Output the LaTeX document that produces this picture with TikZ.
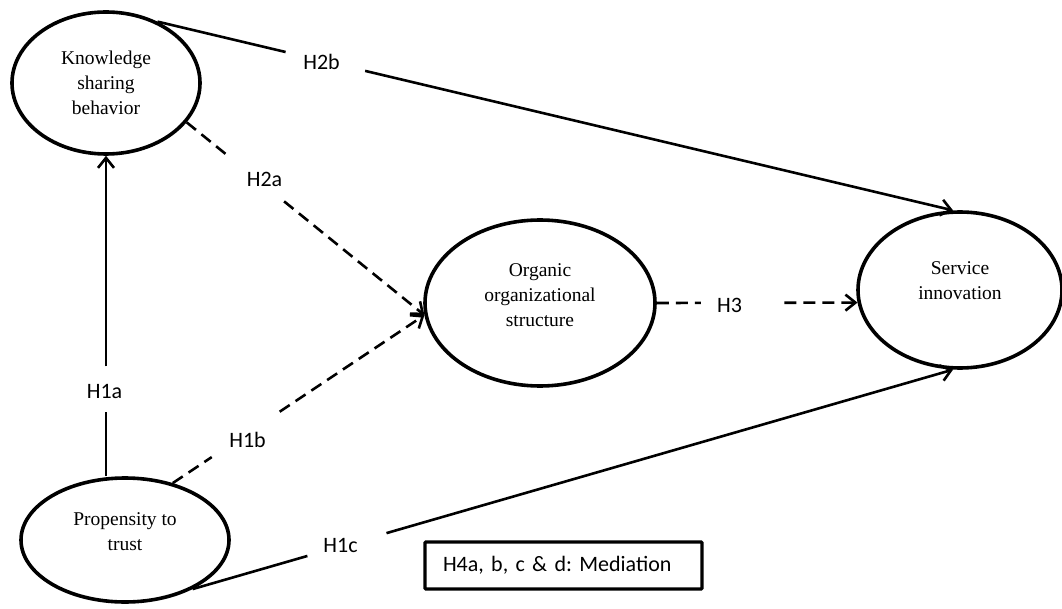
\documentclass[tikz,border=0pt]{standalone}
\usepackage{fontspec}
\setmainfont{Liberation Serif}
\newfontfamily\labfont{Carlito}
\usetikzlibrary{arrows.meta,calc,shapes.geometric}
\newcommand\liftline[1]{\\[#1]\mbox{}}
\frenchspacing
\begin{document}
\begin{tikzpicture}[x=1pt,y=-1pt,
  construct/.style={ellipse, draw, line width=3.6pt, inner sep=0pt, align=center,
    font=\fontsize{19.5}{25}\selectfont},
  hyp/.style={font=\labfont\fontsize{22}{26}\selectfont, inner sep=0pt},
  conn/.style={line width=2.6pt},
  dconn/.style={conn, dash pattern=on 12pt off 7pt},
  tip/.style={-{Straight Barb[length=10pt,width=16pt]}},
]
\useasboundingbox (0,0) rectangle (1062,609);

% constructs
\node[construct, minimum width=188pt, minimum height=142pt] (ksb) at (106,83) {Knowledge\\sharing\\behavior};
\node[construct, minimum width=230pt, minimum height=166pt] (oos) at (540,303) {Organic\\organizational\\structure\liftline{-9pt}};
\node[construct, minimum width=204pt, minimum height=156pt] (si) at (960,290) {Service\\innovation\liftline{-7pt}};
\node[construct, minimum width=208pt, minimum height=124pt] (pt) at (125,540) {Propensity to\\trust\liftline{-9pt}};

% hypothesis labels
\node[hyp] (h1a) at (104.5,391.5) {H1a};
\node[hyp] (h1b) at (247.5,439.5) {H1b};
\node[hyp] (h1c) at (340.5,545.5) {H1c};
\node[hyp] (h2a) at (264.5,179.5) {H2a};
\node[hyp] (h2b) at (321.5,61.5) {H2b};
\node[hyp] (h3) at (729.5,305.5) {H3};

% mediation box
\node[draw, line width=3.4pt, rounded corners=1pt, minimum height=47pt, text width=241pt,
  inner xsep=18pt, align=left, font=\labfont\fontsize{22}{26}\selectfont] (med)
  at (563.5,565.5) {H4a, b, c \& d: Mediation};

% H1a
\coordinate (h1aS) at (pt.north -| ksb.south);
\path (h1aS) -- (ksb.south) coordinate[pos=0.2] (h1a1) coordinate[pos=0.343] (h1a2);
\draw[conn] (h1aS) -- (h1a1);
\draw[conn,tip] (h1a2) -- (ksb.south);

% H1b
\path (pt.50) -- (oos.186) coordinate[pos=0.155] (h1b1) coordinate[pos=0.425] (h1b2);
\draw[dconn] (pt.50) -- (h1b1);
\draw[dconn,tip] (h1b2) -- (oos.186);

% H1c
\path (pt.-36) -- (si.265) coordinate[pos=0.151] (h1c1) coordinate[pos=0.255] (h1c2);
\draw[conn] (pt.-36) -- (h1c1);
\draw[conn,tip] (h1c2) -- (si.265);

% H2a
\path (ksb.-26) -- (oos.186) coordinate[pos=0.166] (h2a1) coordinate[pos=0.41] (h2a2);
\draw[dconn] (ksb.-26) -- (h2a1);
\draw[dconn,tip] (h2a2) -- (oos.186);

% H2b
\path (ksb.50) -- (si.95) coordinate[pos=0.161] (h2b1) coordinate[pos=0.261] (h2b2);
\draw[conn] (ksb.50) -- (h2b1);
\draw[conn,tip] (h2b2) -- (si.95);

% H3
\path (oos.east) -- (si.187) coordinate[pos=0.22] (h31) coordinate[pos=0.635] (h32);
\draw[dconn] (oos.east) -- (h31);
\draw[dconn,tip] (h32) -- (si.187);
\end{tikzpicture}
\end{document}
